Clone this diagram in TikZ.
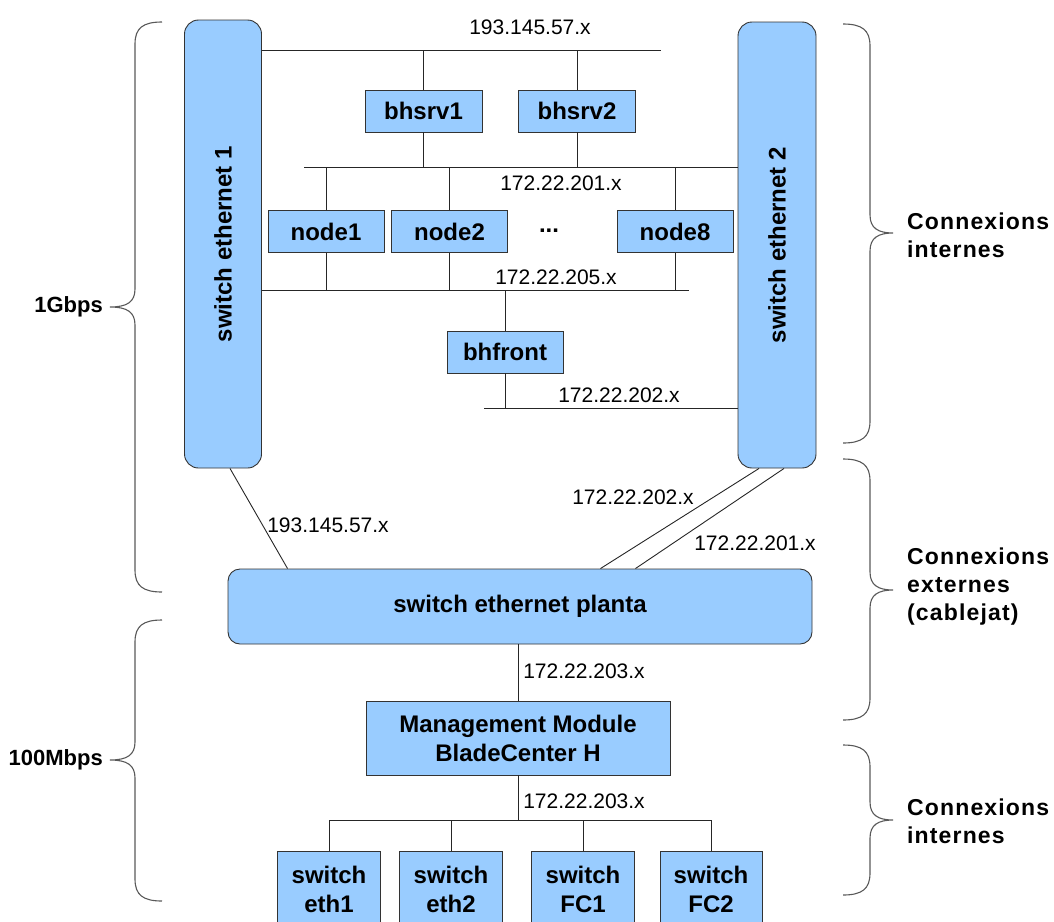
\documentclass[tikz,border=0pt]{standalone}
\usepackage{fontspec}
\setmainfont{Liberation Sans}
\newfontfamily\bracefam[LetterSpace=5]{Liberation Sans}
\definecolor{boxblue}{HTML}{99CCFF}
\definecolor{edge}{HTML}{333333}
\newcommand\boxfont{\fontsize{24}{29}\selectfont\bfseries}
\newcommand\ipfont{\fontsize{21}{25}\selectfont}
\newcommand\bracefont{\bracefam\fontsize{23}{28}\selectfont\bfseries}
\newcommand\sidefont{\fontsize{22}{26}\selectfont\bfseries}
\newcommand\myRBrace[3]{%
  \draw[brace] (843,#1) .. controls (862,#1) and (870,#1+6) .. (870,#1+22)
    -- (870,#2-18) .. controls (870,#2-5) and (878,#2) .. (893,#2)
    .. controls (878,#2) and (870,#2+5) .. (870,#2+18)
    -- (870,#3-22) .. controls (870,#3-6) and (862,#3) .. (843,#3);}
\newcommand\myLBrace[3]{%
  \draw[brace] (162,#1) .. controls (143,#1) and (135,#1+6) .. (135,#1+22)
    -- (135,#2-18) .. controls (135,#2-5) and (127,#2) .. (110,#2)
    .. controls (127,#2) and (135,#2+5) .. (135,#2+18)
    -- (135,#3-22) .. controls (135,#3-6) and (143,#3) .. (162,#3);}
\tikzset{
  box/.style={draw=edge, fill=boxblue, line width=0.9pt, inner sep=0pt,
    font=\boxfont, align=center},
  rbox/.style={box, rounded corners=14pt},
  ip/.style={font=\ipfont, inner sep=0pt},
  wire/.style={draw=black!85, line width=0.9pt},
  brace/.style={draw=black!65, line width=1.1pt},
  bracelabel/.style={font=\bracefont, align=left, anchor=west, inner sep=0pt},
  sidelabel/.style={font=\sidefont, anchor=east, inner sep=0pt},
}
\begin{document}
\begin{tikzpicture}[x=1pt,y=-1pt]
\useasboundingbox (0,0) rectangle (1054,921);
\clip (0,0) rectangle (1054,921);
% switches
\node[rbox, minimum width=77pt, minimum height=448pt] (sw1) at (223,244)
  {\rotatebox{90}{switch ethernet 1}};
\node[rbox, minimum width=78pt, minimum height=446pt] (sw2) at (777,245)
  {\rotatebox{90}{switch ethernet 2}};
% servers and nodes
\node[box, minimum width=117pt, minimum height=42pt] (bhsrv1) at (423.5,111) {bhsrv1};
\node[box, minimum width=117pt, minimum height=42pt] (bhsrv2) at (577,111) {bhsrv2};
\node[box, minimum width=116pt, minimum height=42pt] (node1) at (326,231.5) {node1};
\node[box, minimum width=116pt, minimum height=42pt] (node2) at (449.5,231.5) {node2};
\node[font=\boxfont, inner sep=0pt] (dots) at (549,231) {...};
\node[box, minimum width=116pt, minimum height=42pt] (node8) at (675,231.5) {node8};
\node[box, minimum width=116pt, minimum height=42pt] (bhfront) at (505,352) {bhfront};
% planta and management
\node[box, rounded corners=12pt, minimum width=584pt, minimum height=75pt] (planta) at (520,606.5)
  {switch ethernet planta};
\node[box, minimum width=304pt, minimum height=74pt] (mm) at (518,738)
  {Management Module\\BladeCenter H};
\node[box, minimum width=103pt, minimum height=76pt] (se1) at (329,889) {switch\\eth1};
\node[box, minimum width=103pt, minimum height=76pt] (se2) at (451,889) {switch\\eth2};
\node[box, minimum width=103pt, minimum height=76pt] (sfc1) at (583,889) {switch\\FC1};
\node[box, minimum width=102pt, minimum height=76pt] (sfc2) at (711,889) {switch\\FC2};
% bus end points
\coordinate (b193) at (661,50);
\coordinate (b201) at (304,167);
\coordinate (b205) at (689,290);
\coordinate (b202) at (484,408);
\coordinate (bbot) at (519,820);
% buses
\draw[wire] (sw1.east |- b193) -- (b193);
\draw[wire] (b201) -- (sw2.west |- b201);
\draw[wire] (sw1.east |- b205) -- (b205);
\draw[wire] (b202) -- (sw2.west |- b202);
\draw[wire] (se1 |- bbot) -- (sfc2 |- bbot);
% drops
\draw[wire] (bhsrv1.north) -- (bhsrv1 |- b193);
\draw[wire] (bhsrv2.north) -- (bhsrv2 |- b193);
\draw[wire] (bhsrv1.south) -- (bhsrv1 |- b201);
\draw[wire] (bhsrv2.south) -- (bhsrv2 |- b201);
\draw[wire] (node1.north) -- (node1 |- b201);
\draw[wire] (node2.north) -- (node2 |- b201);
\draw[wire] (node8.north) -- (node8 |- b201);
\draw[wire] (node1.south) -- (node1 |- b205);
\draw[wire] (node2.south) -- (node2 |- b205);
\draw[wire] (node8.south) -- (node8 |- b205);
\draw[wire] (bhfront.north) -- (bhfront |- b205);
\draw[wire] (bhfront.south) -- (bhfront |- b202);
% external links
\draw[wire] ([xshift=7pt]sw1.south) -- ([xshift=60pt]planta.north west);
\draw[wire] ([xshift=-18pt]sw2.south) -- ([xshift=-212pt]planta.north east);
\draw[wire] ([xshift=7pt]sw2.south) -- ([xshift=-177pt]planta.north east);
\draw[wire] (planta.south -| mm.north) -- (mm.north);
\draw[wire] (mm.south) -- (mm |- bbot);
\draw[wire] (se1.north) -- (se1 |- bbot);
\draw[wire] (se2.north) -- (se2 |- bbot);
\draw[wire] (sfc1.north) -- (sfc1 |- bbot);
\draw[wire] (sfc2.north) -- (sfc2 |- bbot);
% network labels
\node[ip] (l193a) at (530,27) {193.145.57.x};
\node[ip] (l201a) at (561,183) {172.22.201.x};
\node[ip] (l205) at (556,277) {172.22.205.x};
\node[ip] (l202a) at (619,395) {172.22.202.x};
\node[ip] (l193b) at (328,525) {193.145.57.x};
\node[ip] (l202b) at (633,497) {172.22.202.x};
\node[ip] (l201b) at (755,543) {172.22.201.x};
\node[ip] (l203a) at (584,671) {172.22.203.x};
\node[ip] (l203b) at (584,801) {172.22.203.x};
% braces
\myLBrace{22}{307}{592}
\myLBrace{620}{760}{901}
\myRBrace{24}{233}{443}
\myRBrace{459}{590}{720}
\myRBrace{745}{820}{895}
\node[sidelabel] (g1) at (103,307) {1Gbps};
\node[sidelabel] (g2) at (103,760) {100Mbps};
\node[bracelabel] (c1) at (907,235) {Connexions\\internes};
\node[bracelabel] (c2) at (907,587) {Connexions\\externes\\(cablejat)};
\node[bracelabel] (c3) at (907,821) {Connexions\\internes};
\end{tikzpicture}
\end{document}
